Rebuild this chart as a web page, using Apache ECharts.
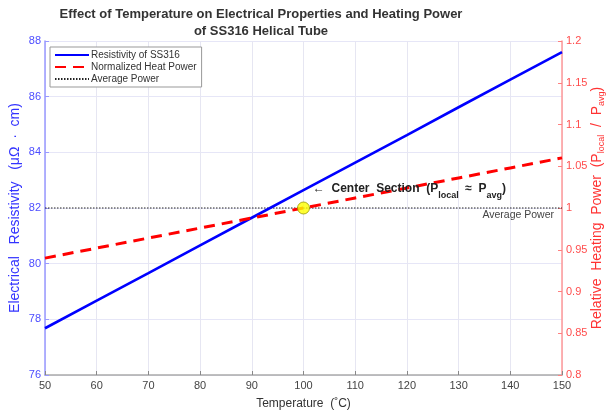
<!DOCTYPE html>
<html><head><meta charset="utf-8">
<script src="https://cdn.jsdelivr.net/npm/echarts@6/dist/echarts.min.js"></script>
<style>html,body{margin:0;padding:0;background:#fff}#c{width:610px;height:412px}</style>
</head><body><div id="c"></div>
<script>
const temperatures = [50, 60, 70, 80, 90, 100, 110, 120, 130, 140, 150];
const resistivity = [77.68, 78.67, 79.66, 80.66, 81.65, 82.64, 83.63, 84.62, 85.62, 86.61, 87.60];
const heatPower = [0.940, 0.952, 0.964, 0.976, 0.988, 1.000, 1.012, 1.024, 1.036, 1.048, 1.060];
const avgPowerX = [50, 150];
const avgPowerY = [82, 82];
const centerPoint = [100, 1.0];

const FF = 'Liberation Sans, Arial, Helvetica, sans-serif';
const chart = echarts.init(document.getElementById('c'), null, {renderer: 'canvas'});
chart.setOption({
  animation: false,
  textStyle: {fontFamily: FF},
  title: {
    text: 'Effect of Temperature on Electrical Properties and Heating Power\nof SS316 Helical Tube',
    left: 256, top: 1, textAlign: 'center',
    textStyle: {fontSize: 13, fontWeight: 'bold', color: '#333', lineHeight: 17, fontFamily: FF}
  },
  grid: {left: 45, right: 48, top: 41, bottom: 37, outerBoundsMode: 'none', containLabel: false},
  legend: {
    orient: 'vertical', left: 50, top: 47,
    borderColor: '#999', borderWidth: 1, backgroundColor: '#fff',
    padding: [3, 5, 3, 4], itemGap: 2, itemWidth: 34, itemHeight: 10,
    itemStyle: {opacity: 0},
    textStyle: {fontSize: 10, color: '#333', fontFamily: FF, padding: [0, 0, 0, -3]},
    data: ['Resistivity of SS316', 'Normalized Heat Power', 'Average Power']
  },
  xAxis: {
    type: 'value', min: 50, max: 150, interval: 10,
    name: 'Temperature  (˚C)', nameLocation: 'middle', nameGap: 23, nameMoveOverlap: false,
    nameTextStyle: {fontSize: 12, color: '#333', fontFamily: FF},
    axisLine: {onZero: false, lineStyle: {color: '#aaa', width: 1.5}},
    axisTick: {inside: true, length: 4, lineStyle: {color: '#888'}},
    axisLabel: {color: '#444', fontSize: 11, margin: 5},
    splitLine: {show: true, lineStyle: {color: '#e6e6f2', width: 1}}
  },
  yAxis: [{
    type: 'value', min: 76, max: 88, interval: 2, position: 'left',
    name: 'Electrical   Resistivity   (μΩ  ·  cm)', nameLocation: 'middle', nameGap: 23, nameRotate: 90, nameMoveOverlap: false,
    nameTextStyle: {fontSize: 14, color: '#3333ff', fontFamily: FF},
    axisLine: {show: true, lineStyle: {color: '#9999ff', width: 1.5}},
    axisTick: {show: true, inside: true, length: 4, lineStyle: {color: '#9999ff'}},
    axisLabel: {color: '#4d4dff', fontSize: 11, margin: 4},
    splitLine: {show: true, lineStyle: {color: '#e6e6f7', width: 1}}
  }, {
    type: 'value', min: 0.8, max: 1.2, interval: 0.05, position: 'right',
    name: 'Relative  Heating  Power  (P{sub|local}  /  P{sub|avg})', nameLocation: 'middle', nameGap: 28, nameRotate: 90, nameMoveOverlap: false,
    nameTextStyle: {fontSize: 14, color: '#ff3333', fontFamily: FF,
      rich: {sub: {fontSize: 9, color: '#ff3333', verticalAlign: 'bottom', padding: [0, 0, -2, 0], fontFamily: FF}}},
    axisLine: {show: true, lineStyle: {color: '#ff9999', width: 1.5}},
    axisTick: {show: true, inside: true, length: 4, lineStyle: {color: '#ff8080'}},
    axisLabel: {color: '#ff4d4d', fontSize: 11, margin: 4, formatter: v => String(+v.toFixed(2))},
    splitLine: {show: false}
  }],
  series: [{
    name: 'Resistivity of SS316', type: 'line', yAxisIndex: 0, symbol: 'none',
    data: temperatures.map((t, i) => [t, resistivity[i]]),
    lineStyle: {color: '#0000ff', width: 2.6}, itemStyle: {color: '#0000ff'}, z: 3
  }, {
    name: 'Normalized Heat Power', type: 'line', yAxisIndex: 1, symbol: 'none',
    data: temperatures.map((t, i) => [t, heatPower[i]]),
    lineStyle: {color: '#ff0000', width: 3, type: [11, 7]}, itemStyle: {color: '#ff0000'}, z: 4
  }, {
    name: 'Average Power', type: 'line', yAxisIndex: 0, symbol: 'none',
    data: avgPowerX.map((t, i) => [t, avgPowerY[i]]),
    lineStyle: {color: '#222', width: 1.2, type: [1.5, 1.5]}, itemStyle: {color: '#222'}, z: 2,
    markPoint: {
      symbol: 'circle', symbolSize: 0, silent: true,
      data: [{coord: [150, 82], label: {show: true, formatter: 'Average Power', position: 'left', align: 'right', offset: [-3, 7], color: '#444', fontSize: 10.5, fontFamily: FF}}]
    }
  }, {
    name: 'Center', type: 'scatter', yAxisIndex: 1, symbol: 'circle', symbolSize: 12,
    data: [centerPoint],
    itemStyle: {color: '#ffff00', borderColor: '#999900', borderWidth: 1}, z: 6,
    markPoint: {
      symbol: 'circle', symbolSize: 0, silent: true,
      data: [{coord: [101.8, 1.0228], label: {
        show: true, position: 'right', distance: 0,
        formatter: '←  Center  Section  (P{sub|local}  ≈  P{sub|avg})',
        color: '#222', fontSize: 12, fontWeight: 'bold', fontFamily: FF,
        rich: {sub: {fontSize: 9, fontWeight: 'bold', color: '#222', verticalAlign: 'bottom', padding: [0, 0, -5, 0], fontFamily: FF}}
      }}]
    }
  }]
});
</script></body></html>
